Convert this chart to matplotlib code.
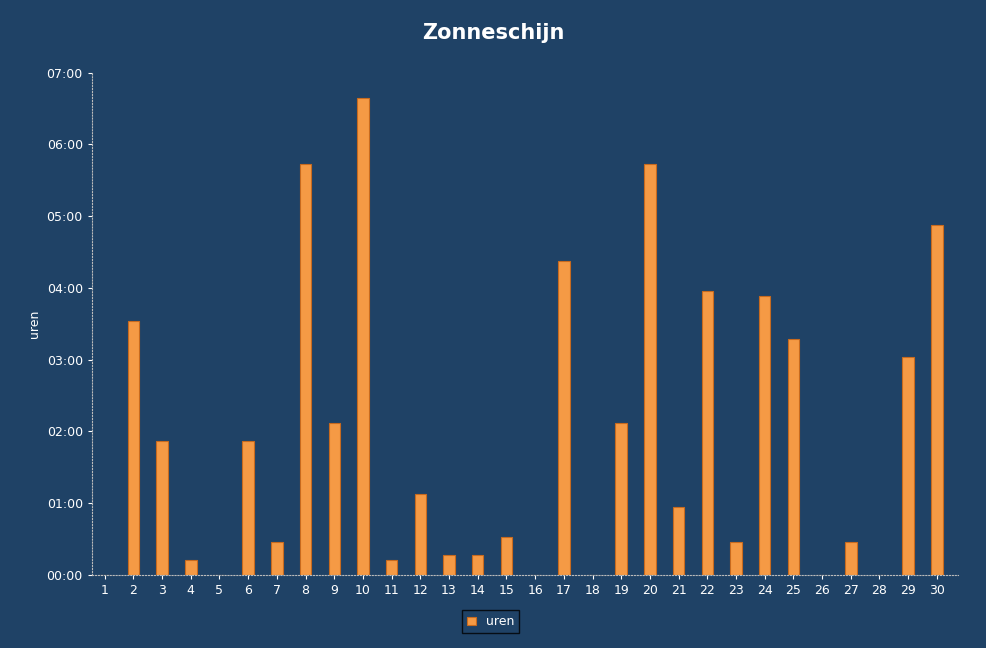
import matplotlib
matplotlib.use("Agg")
import matplotlib.pyplot as plt
from matplotlib.ticker import FuncFormatter, MultipleLocator

days = list(range(1, 31))
hours = [0, 3.54, 1.87, 0.2, 0, 1.87, 0.45, 5.72, 2.12, 6.64,
         0.2, 1.12, 0.28, 0.28, 0.53, 0, 4.38, 0, 2.12, 5.72,
         0.95, 3.96, 0.45, 3.88, 3.29, 0, 0.45, 0, 3.04, 4.88]

bg = "#1F4266"
fig = plt.figure(figsize=(9.87, 6.48), dpi=100, facecolor=bg)
ax = fig.add_axes([0.093, 0.113, 0.878, 0.775], facecolor=bg)
ax.bar(days, hours, width=0.4, color="#F59A45", edgecolor="#C86A1E", linewidth=0.8, label="uren")
ax.set_xlim(0.55, 30.75)
ax.set_ylim(0, 7)
ax.yaxis.set_major_locator(MultipleLocator(1))
ax.yaxis.set_major_formatter(FuncFormatter(lambda v, p: "%02d:%02d" % (int(v), int(round((v % 1) * 60)))))
ax.set_xticks(days)
for s in ["top", "right"]:
    ax.spines[s].set_visible(False)
for s in ["left", "bottom"]:
    ax.spines[s].set_color("#BBBBBB")
    ax.spines[s].set_linestyle(":")
ax.tick_params(colors="white", labelsize=9, length=3)
ax.set_ylabel("uren", color="white", fontsize=9)
fig.suptitle("Zonneschijn", color="white", fontsize=15, fontweight="bold", y=0.965)
leg = fig.legend(loc="lower center", bbox_to_anchor=(0.497, 0.013), fontsize=9, frameon=True,
                 handlelength=0.7, handleheight=0.7, fancybox=False)
leg.get_frame().set_facecolor(bg)
leg.get_frame().set_edgecolor("black")
for t in leg.get_texts():
    t.set_color("white")
fig.savefig("out.png", facecolor=bg)
